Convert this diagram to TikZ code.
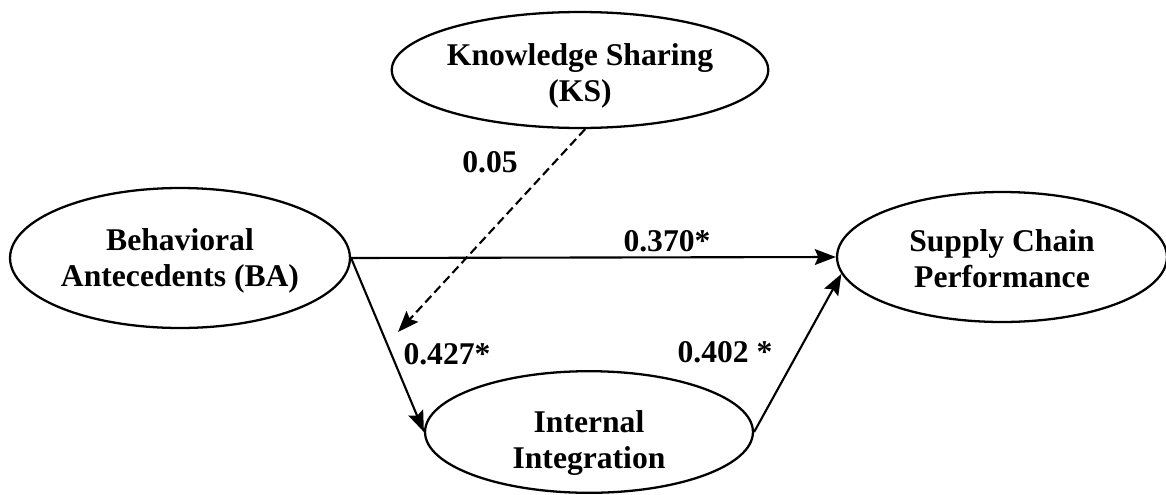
\documentclass[tikz,border=0pt]{standalone}
\usepackage{fontspec}
\setmainfont{Liberation Serif}
\usepackage{tikz}
\usetikzlibrary{arrows.meta,shapes,positioning}

\begin{document}
\begin{tikzpicture}[x=0.02cm,y=-0.02cm,
  latent/.style={draw=black, line width=1.3pt, ellipse, inner sep=0pt, align=center, font=\fontsize{18}{20.5}\selectfont\bfseries},
  coef/.style={anchor=base, inner sep=0pt, font=\fontsize{18}{20.5}\selectfont\bfseries},
  path/.style={line width=1.2pt, -{Stealth[length=12pt,width=9pt,inset=2pt]}},
  moderate/.style={line width=1.2pt, dash pattern=on 5pt off 2.6pt, -{Stealth[length=12pt,width=9pt,inset=2pt]}}]
\useasboundingbox (0,0) rectangle (1166,494);

%Knowledge sharing
\node[latent, minimum width=6.28cm, minimum height=2.32cm] (KS) at (580,70) {\rule{0pt}{0.66cm}Knowledge Sharing\\(KS)};

%Behavioral antecedents
\node[latent, minimum width=6.8cm, minimum height=2.8cm] (BA) at (180,258) {\rule{0pt}{0.54cm}Behavioral\\Antecedents (BA)};

%Supply chain performance
\node[latent, minimum width=6.6cm, minimum height=2.6cm] (SCP) at (1002,257) {\rule{0pt}{0.5cm}Supply Chain\\Performance};

%Internal integration
\node[latent, minimum width=6.56cm, minimum height=2.4cm] (II) at (589,432) {\rule{0pt}{0.86cm}Internal\\Integration};

\coordinate (mod) at (398,332);

%Paths
\draw[path] (BA.east) -- (SCP.west);
\draw[path] (BA.east) -- (II.west);
\draw[path] (II.east) -- (SCP.186);
\draw[moderate] (KS.-85) -- (mod);

%Coefficients
\node[coef] (c1) at (490,172) {0.05};
\node[coef] (c2) at (667,251) {0.370*};
\node[coef] (c3) at (447,364) {0.427*};
\node[coef] (c4) at (725,362) {0.402 *};
\end{tikzpicture}
\end{document}
